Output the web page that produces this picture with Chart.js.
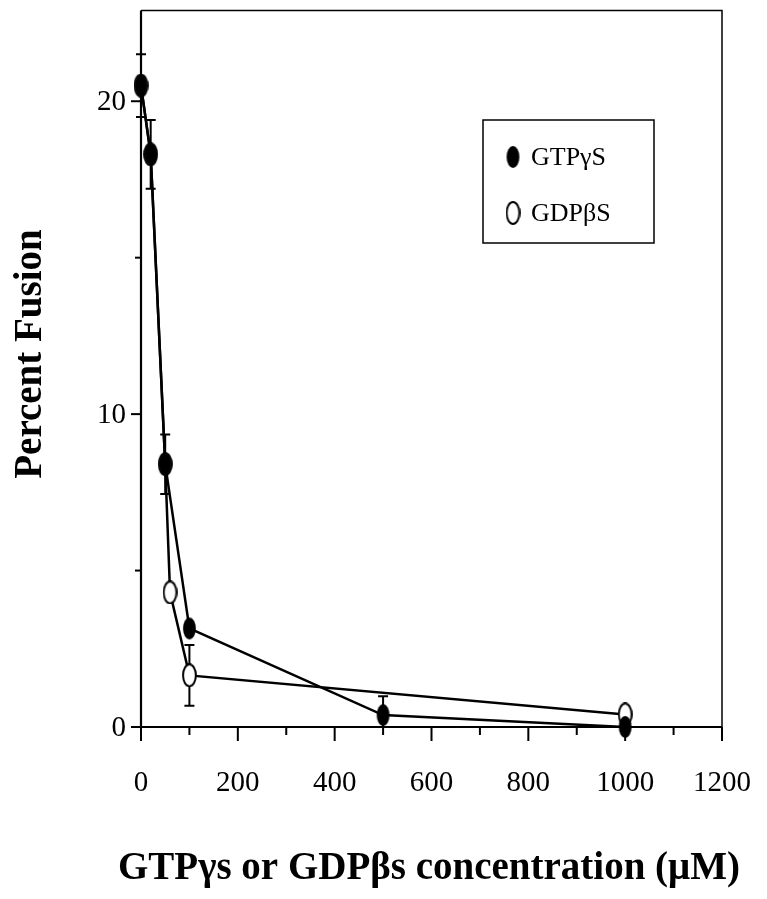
<!DOCTYPE html>
<html>
<head>
<meta charset="utf-8">
<script src="https://cdn.jsdelivr.net/npm/chart.js@4/dist/chart.umd.min.js"></script>
<style>
  html, body { margin: 0; padding: 0; background: #fff; }
  #wrap { width: 767px; height: 899px; }
</style>
</head>
<body>
<div id="wrap"><canvas id="c" width="767" height="899"></canvas></div>
<script>
// ---- data ----
const seriesLabels = ['GTPγS', 'GDPβS'];
const gtpX = [0, 20, 50, 100, 500, 1000];
const gtpY = [20.5, 18.3, 8.4, 3.15, 0.38, 0];
const gtpErr = [1.0, 1.1, 0.95, 0, 0.6, 0];
const gdpX = [0, 20, 50, 60, 100, 1000];
const gdpY = [20.5, 18.3, 8.4, 4.3, 1.65, 0.4];
const gdpErr = [0, 0, 0, 0, 0.97, 0];
const xTickValues = [0, 100, 200, 300, 400, 500, 600, 700, 800, 900, 1000, 1100, 1200];
const xTickLabels = ['0', '', '200', '', '400', '', '600', '', '800', '', '1000', '', '1200'];
const yTickValues = [0, 5, 10, 15, 20];
const yTickLabels = ['0', '', '10', '', '20'];
const xTitle = 'GTPγs or GDPβs concentration (μM)';
const yTitle = 'Percent Fusion';

const SERIF = '"Liberation Serif", "Times New Roman", serif';

function ellipseImg(filled) {
  const w = 15, h = 24;
  const cv = document.createElement('canvas');
  cv.width = w; cv.height = h;
  const g = cv.getContext('2d');
  g.beginPath();
  g.ellipse(w / 2, h / 2, w / 2 - 1.1, h / 2 - 1.1, 0, 0, Math.PI * 2);
  if (filled) { g.fillStyle = '#000'; g.fill(); }
  else { g.fillStyle = '#fff'; g.fill(); g.lineWidth = 2; g.strokeStyle = '#000'; g.stroke(); }
  return cv;
}
const filledImg = ellipseImg(true);
const openImg = ellipseImg(false);

const toPts = (xs, ys) => xs.map((x, i) => ({ x: x, y: ys[i] }));

const customPlugin = {
  id: 'custom',
  beforeDatasetsDraw(chart) {
    const ctx = chart.ctx, xs = chart.scales.x, ys = chart.scales.y;
    ctx.save();
    ctx.strokeStyle = '#000';
    ctx.lineWidth = 2;
    const bars = [[gtpX, gtpY, gtpErr], [gdpX, gdpY, gdpErr]];
    bars.forEach(([X, Y, E]) => {
      X.forEach((xv, i) => {
        if (!E[i]) return;
        const px = xs.getPixelForValue(xv);
        const top = ys.getPixelForValue(Y[i] + E[i]);
        const bot = ys.getPixelForValue(Math.max(0, Y[i] - E[i]));
        ctx.beginPath();
        ctx.moveTo(px, top); ctx.lineTo(px, bot);
        ctx.moveTo(px - 5, top); ctx.lineTo(px + 5, top);
        ctx.moveTo(px - 5, bot); ctx.lineTo(px + 5, bot);
        ctx.stroke();
      });
    });
    ctx.restore();
  },
  afterDraw(chart) {
    const ctx = chart.ctx, xs = chart.scales.x, ys = chart.scales.y;
    const a = chart.chartArea;
    ctx.save();
    // frame top/right
    ctx.strokeStyle = '#000';
    ctx.lineWidth = 1.5;
    ctx.beginPath();
    ctx.moveTo(a.left, a.top); ctx.lineTo(a.right, a.top); ctx.lineTo(a.right, a.bottom);
    ctx.stroke();
    // axes
    ctx.lineWidth = 2.2;
    ctx.beginPath();
    ctx.moveTo(a.left, a.top); ctx.lineTo(a.left, a.bottom); ctx.lineTo(a.right, a.bottom);
    ctx.stroke();
    // x ticks
    ctx.lineWidth = 2;
    ctx.fillStyle = '#000';
    ctx.font = '29px ' + SERIF;
    ctx.textAlign = 'center';
    ctx.textBaseline = 'middle';
    xTickValues.forEach((v, i) => {
      const px = xs.getPixelForValue(v);
      const len = xTickLabels[i] ? 14 : 8;
      ctx.beginPath(); ctx.moveTo(px, a.bottom); ctx.lineTo(px, a.bottom + len); ctx.stroke();
      if (xTickLabels[i]) ctx.fillText(xTickLabels[i], px, a.bottom + 56);
    });
    // y ticks
    ctx.textAlign = 'right';
    yTickValues.forEach((v, i) => {
      const py = ys.getPixelForValue(v);
      const len = yTickLabels[i] ? 10 : 6;
      ctx.beginPath(); ctx.moveTo(a.left - len, py); ctx.lineTo(a.left, py); ctx.stroke();
      if (yTickLabels[i]) ctx.fillText(yTickLabels[i], a.left - 15, py + 1);
    });
    // titles
    ctx.font = 'bold 39px ' + SERIF;
    ctx.textAlign = 'center';
    ctx.fillText(xTitle, 429, 869);
    ctx.save();
    ctx.translate(31, 354);
    ctx.rotate(-Math.PI / 2);
    ctx.fillText(yTitle, 0, 0);
    ctx.restore();
    // legend
    ctx.lineWidth = 1.5;
    ctx.strokeRect(483, 120, 171, 123);
    ctx.drawImage(filledImg, 513 - 7.5, 157 - 12);
    ctx.drawImage(openImg, 513 - 7.5, 213 - 12);
    ctx.font = '26px ' + SERIF;
    ctx.textAlign = 'left';
    ctx.fillText(seriesLabels[0], 531, 158);
    ctx.fillText(seriesLabels[1], 531, 214);
    ctx.restore();
  }
};

new Chart(document.getElementById('c'), {
  type: 'scatter',
  data: {
    datasets: [
      {
        label: seriesLabels[0],
        data: toPts(gtpX, gtpY),
        showLine: true,
        borderColor: '#000',
        borderWidth: 2.5,
        pointStyle: filledImg,
        pointRadius: 8,
        clip: false
      },
      {
        label: seriesLabels[1],
        data: toPts(gdpX, gdpY),
        showLine: true,
        borderColor: '#000',
        borderWidth: 2.5,
        pointStyle: openImg,
        pointRadius: 8,
        clip: false
      }
    ]
  },
  options: {
    responsive: false,
    animation: false,
    events: [],
    layout: { padding: { left: 0, top: 7, right: 45, bottom: 0 } },
    plugins: { legend: { display: false }, tooltip: { enabled: false } },
    scales: {
      x: {
        type: 'linear', min: 0, max: 1200,
        ticks: { display: false },
        grid: { display: false },
        border: { display: false },
        afterFit(s) { s.height = 172; }
      },
      y: {
        type: 'linear', min: 0, max: 22.9,
        ticks: { display: false },
        grid: { display: false },
        border: { display: false },
        afterFit(s) { s.width = 141; }
      }
    }
  },
  plugins: [customPlugin]
});
</script>
</body>
</html>
